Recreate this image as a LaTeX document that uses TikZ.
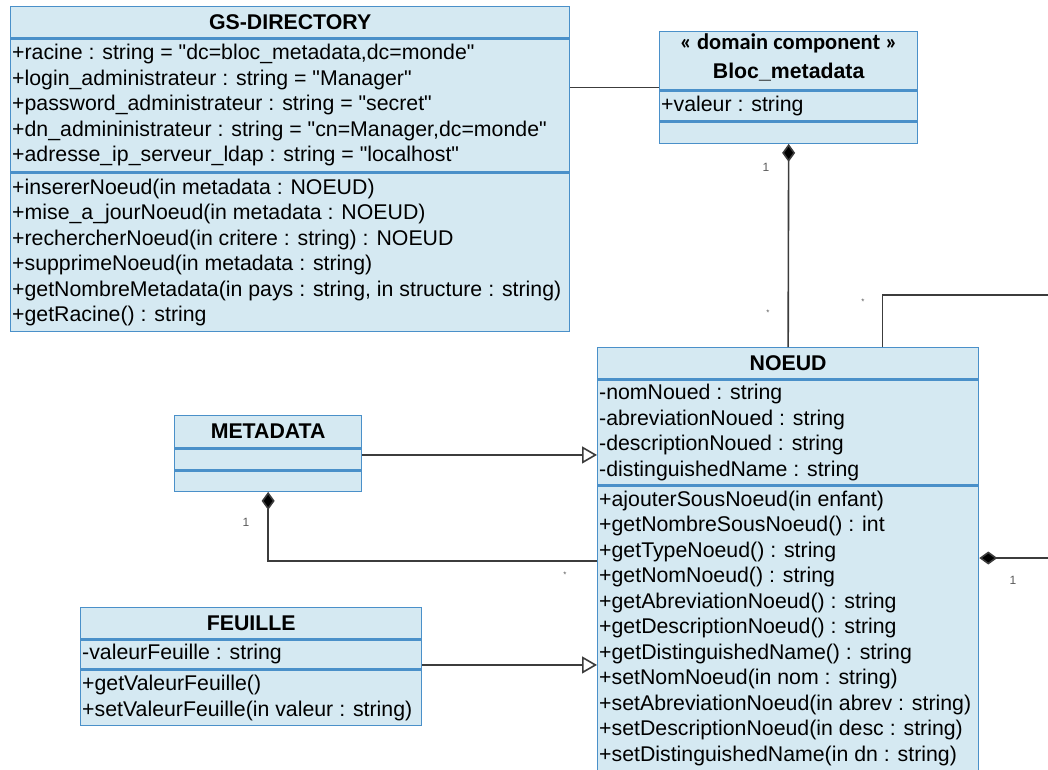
\documentclass[tikz,border=0pt]{standalone}
\usepackage{fontspec}
\setmainfont{Liberation Sans}[Ligatures=TeXOff]
\newfontfamily\stereofont{Carlito}
\usetikzlibrary{arrows.meta,calc}
\definecolor{fillc}{RGB}{213,233,242}
\definecolor{bord}{RGB}{74,144,201}
\definecolor{connc}{RGB}{60,60,60}
\definecolor{lbl}{RGB}{90,90,90}
\newcommand\fsz{\fontsize{21.3}{25.5}\selectfont}
\begin{document}
\begin{tikzpicture}[x=1pt,y=-1pt,
  box/.style={draw=bord, fill=fillc, line width=1.3pt, inner sep=0pt, anchor=north west},
  ttl/.style={font=\fsz\bfseries, inner sep=0pt},
  txt/.style={font=\fsz, align=left, inner sep=0pt, anchor=west},
  conn/.style={draw=connc, line width=1.6pt},
  compo/.style={conn, -{Diamond[length=18pt,width=13pt,fill=black]}},
  gen/.style={conn, -{Triangle[open,length=15pt,width=17pt,fill=white]}},
  mult/.style={font=\fontsize{12}{14}\selectfont, text=lbl, inner sep=0pt},
  star/.style={font=\fontsize{8}{10}\selectfont, text=lbl, inner sep=0pt}
]
\useasboundingbox (0,0) rectangle (1048,769);

% ---------- GS-DIRECTORY ----------
\node[box, minimum width=559pt, minimum height=31pt] (gsH) at (10,6) {};
\node[box, minimum width=559pt, minimum height=133pt] (gsA) at (gsH.south west) {};
\node[box, minimum width=559pt, minimum height=158pt] (gsM) at (gsA.south west) {};
\node[ttl] (gsT) at (gsH.center) {GS-DIRECTORY};
\node[txt] (gsAt) at ([xshift=2pt]gsA.west) {+racine : string = "dc=bloc\_metadata,dc=monde"\\+login\_administrateur : string = "Manager"\\+password\_administrateur : string = "secret"\\+dn\_admininistrateur : string = "cn=Manager,dc=monde"\\+adresse\_ip\_serveur\_ldap : string = "localhost"};
\node[txt] (gsMt) at ([xshift=2pt]gsM.west) {+insererNoeud(in metadata : NOEUD)\\+mise\_a\_jourNoeud(in metadata : NOEUD)\\+rechercherNoeud(in critere : string) : NOEUD\\+supprimeNoeud(in metadata : string)\\+getNombreMetadata(in pays : string, in structure : string)\\+getRacine() : string};

% ---------- Bloc_metadata ----------
\node[box, minimum width=258pt, minimum height=58pt] (blH) at (659,31) {};
\node[box, minimum width=258pt, minimum height=30pt] (blA) at (blH.south west) {};
\node[box, minimum width=258pt, minimum height=21pt] (blO) at (blA.south west) {};
\node[font=\stereofont\bfseries\fontsize{22.5}{26}\selectfont, inner sep=0pt] (blS) at ([yshift=-12pt]blH.north) {« domain component »};
\node[ttl] (blT) at ([yshift=-41pt]blH.north) {Bloc\_metadata};
\node[txt] (blAt) at ([xshift=2pt]blA.west) {+valeur : string};

% ---------- METADATA ----------
\node[box, minimum width=187pt, minimum height=32pt] (mdH) at (174,415) {};
\node[box, minimum width=187pt, minimum height=21pt] (mdA) at (mdH.south west) {};
\node[box, minimum width=187pt, minimum height=20pt] (mdO) at (mdA.south west) {};
\node[ttl] (mdT) at (mdH.center) {METADATA};

% ---------- FEUILLE ----------
\node[box, minimum width=341pt, minimum height=31pt] (feH) at (80,607) {};
\node[box, minimum width=341pt, minimum height=29pt] (feA) at (feH.south west) {};
\node[box, minimum width=341pt, minimum height=55pt] (feM) at (feA.south west) {};
\node[ttl] (feT) at (feH.center) {FEUILLE};
\node[txt] (feAt) at ([xshift=2pt]feA.west) {-valeurFeuille : string};
\node[txt] (feMt) at ([xshift=2pt]feM.west) {+getValeurFeuille()\\+setValeurFeuille(in valeur : string)};

% ---------- NOEUD ----------
\node[box, minimum width=381pt, minimum height=31pt] (noH) at (597,347) {};
\node[box, minimum width=381pt, minimum height=105pt] (noA) at (noH.south west) {};
\node[box, minimum width=381pt, minimum height=284pt] (noM) at (noA.south west) {};
\node[ttl] (noT) at (noH.center) {NOEUD};
\node[txt] (noAt) at ([xshift=2pt]noA.west) {-nomNoued : string\\-abreviationNoued : string\\-descriptionNoued : string\\-distinguishedName : string};
\node[txt] (noMt) at ([xshift=2pt]noM.west) {+ajouterSousNoeud(in enfant)\\+getNombreSousNoeud() : int\\+getTypeNoeud() : string\\+getNomNoeud() : string\\+getAbreviationNoeud() : string\\+getDescriptionNoeud() : string\\+getDistinguishedName() : string\\+setNomNoeud(in nom : string)\\+setAbreviationNoeud(in abrev : string)\\+setDescriptionNoeud(in desc : string)\\+setDistinguishedName(in dn : string)};

% ---------- connectors ----------
\coordinate (g1) at ([yshift=-49pt]gsA.north east);
\draw[conn] (g1) -- (g1 -| blH.west);

\draw[compo] (noH.north) -- (blO.south);

\coordinate (eR1) at (1048,295);
\draw[conn] ([xshift=94.5pt]noH.north) |- (eR1);

\coordinate (m1) at ([yshift=4.5pt]mdA.east);
\draw[gen] (m1) -- (m1 -| noA.west);

\coordinate (n1) at ([yshift=67pt]noM.west);
\draw[compo] (n1) -| (mdO.south);

\coordinate (f1) at ([yshift=-10.5pt]feA.east);
\draw[gen] (f1) -- (f1 -| noM.west);

\coordinate (eR2) at (1048,558);
\draw[compo] (eR2) -- (eR2 -| noM.east);

% ---------- multiplicities ----------
\node[mult] (l1) at (766,167) {1};
\node[star] (s1) at (768,313) {*};
\node[star] (s2) at (863,302) {*};
\node[mult] (l2) at (246,522) {1};
\node[star] (s3) at (565,575) {*};
\node[mult] (l3) at (1013,580) {1};
\end{tikzpicture}
\end{document}
